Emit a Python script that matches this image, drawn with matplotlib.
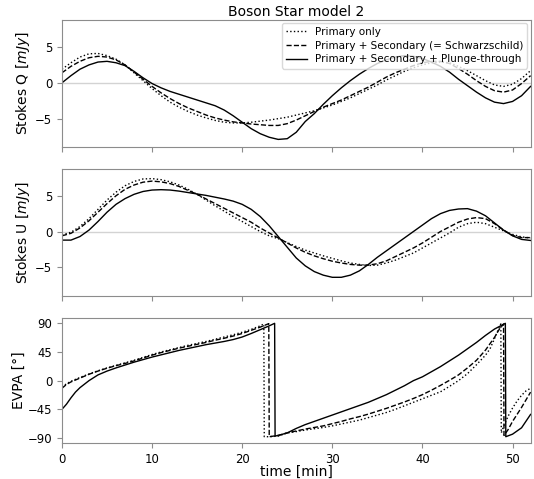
import matplotlib
matplotlib.use("Agg")
import matplotlib.pyplot as plt

# ---------------- data ----------------
time = list(range(0, 53))

# Stokes Q [mJy]
q_primary = [1.9, 2.8, 3.6, 4.05, 4.1, 3.8, 3.3, 2.5, 1.4, 0.3,
             -0.8, -1.8, -2.7, -3.4, -4.0, -4.5, -4.9, -5.25, -5.5, -5.6,
             -5.6, -5.5, -5.35, -5.2, -5.0, -4.8, -4.5, -4.2, -3.9, -3.5,
             -3.1, -2.6, -2.1, -1.5, -0.9, -0.3, 0.4, 1.0, 1.6, 2.1,
             2.5, 2.8, 2.9, 2.8, 2.3, 1.7, 1.0, 0.3, -0.3, -0.5,
             -0.2, 0.6, 1.7]
q_schw = [1.4, 2.3, 3.0, 3.5, 3.7, 3.6, 3.2, 2.5, 1.5, 0.5,
          -0.5, -1.4, -2.2, -2.9, -3.5, -4.0, -4.5, -4.9, -5.2, -5.45,
          -5.6, -5.75, -5.85, -5.95, -5.95, -5.7, -5.2, -4.6, -4.0, -3.4,
          -2.9, -2.4, -1.8, -1.2, -0.6, 0.1, 0.8, 1.4, 1.9, 2.4,
          2.8, 3.0, 3.0, 2.7, 2.0, 1.2, 0.3, -0.5, -1.1, -1.3,
          -1.0, -0.1, 1.0]
q_plunge = [0.0, 1.0, 1.9, 2.5, 2.9, 3.0, 2.8, 2.4, 1.6, 0.7,
            -0.1, -0.7, -1.2, -1.6, -2.0, -2.4, -2.8, -3.2, -3.8, -4.6,
            -5.5, -6.4, -7.1, -7.6, -7.9, -7.8, -6.9, -5.4, -4.3, -3.0,
            -1.8, -0.7, 0.3, 1.2, 2.0, 2.7, 3.2, 3.6, 3.8, 3.7,
            3.4, 2.9, 2.3, 1.5, 0.5, -0.4, -1.3, -2.1, -2.7, -2.9,
            -2.6, -1.8, -0.5]

# Stokes U [mJy]
u_primary = [-0.5, -0.1, 0.7, 1.8, 3.1, 4.4, 5.5, 6.4, 7.0, 7.35,
             7.4, 7.25, 6.95, 6.5, 5.9, 5.2, 4.4, 3.6, 2.85, 2.1,
             1.4, 0.7, 0.0, -0.6, -1.0, -1.55, -2.1, -2.6, -3.0, -3.4,
             -3.75, -4.1, -4.4, -4.6, -4.75, -4.7, -4.4, -4.0, -3.5, -3.0,
             -2.3, -1.6, -0.9, -0.2, 0.6, 1.1, 1.3, 1.1, 0.6, 0.1,
             -0.4, -0.75, -0.9]
u_schw = [-0.6, -0.25, 0.5, 1.5, 2.7, 3.9, 5.0, 5.9, 6.5, 6.9,
          7.05, 6.95, 6.7, 6.3, 5.75, 5.2, 4.55, 3.9, 3.25, 2.6,
          1.95, 1.3, 0.5, -0.2, -0.9, -1.6, -2.3, -2.9, -3.4, -3.8,
          -4.15, -4.4, -4.6, -4.7, -4.7, -4.5, -4.1, -3.5, -2.9, -2.3,
          -1.6, -0.8, 0.0, 0.65, 1.3, 1.75, 1.95, 1.8, 1.1, 0.2,
          -0.55, -0.85, -0.85]
u_plunge = [-1.2, -1.2, -0.7, 0.2, 1.4, 2.7, 3.8, 4.6, 5.2, 5.6,
            5.8, 5.85, 5.8, 5.65, 5.45, 5.25, 5.05, 4.8, 4.55, 4.25,
            3.8, 3.1, 2.1, 0.8, -0.7, -2.2, -3.7, -4.8, -5.6, -6.1,
            -6.4, -6.4, -6.1, -5.5, -4.6, -3.6, -2.7, -1.8, -0.9, 0.0,
            0.9, 1.8, 2.5, 2.95, 3.15, 3.2, 2.85, 2.2, 1.2, 0.2,
            -0.6, -1.1, -1.25]

# EVPA [deg] (own time samples, to capture the wraps)
evpa_primary_t = [0, 0.5, 1, 2, 3, 4, 5, 6, 7, 8, 9, 10, 11, 12, 13, 14, 15, 16, 17, 18,
                  19, 20, 21, 22, 22.4, 22.45, 23, 24, 25, 26, 27, 28, 29, 30, 31, 32, 33,
                  34, 35, 36, 37, 38, 39, 40, 41, 42, 43, 44, 45, 46, 47, 47.5, 48, 48.4,
                  48.7, 48.75, 49, 49.5, 50, 50.5, 51, 51.5, 52]
evpa_primary = [-10, -5, -1, 5, 10.5, 15.5, 20, 24, 28, 32, 36.5, 41, 45, 48.5, 52, 55.5, 58.5,
                61.5, 65, 68.5, 72, 76, 80.5, 86, 89, -88, -88, -87, -82, -80, -77.5, -75.5,
                -73.5, -71, -68, -65, -62, -58, -54, -50, -45, -39.5, -34, -28.5, -23, -17.5,
                -9, 0, 11, 25, 40, 50, 66, 80, 89, -82, -72, -56, -43, -32, -23, -16, -12]

evpa_schw_t = [0, 0.5, 1, 2, 3, 4, 5, 6, 7, 8, 9, 10, 11, 12, 13, 14, 15, 16, 17, 18,
               19, 20, 21, 22, 22.95, 23.0, 24, 25, 26, 27, 28, 29, 30, 31, 32, 33, 34,
               35, 36, 37, 38, 39, 40, 41, 42, 43, 44, 45, 46, 47, 48, 48.5, 49.0,
               49.05, 49.5, 50, 51, 52]
evpa_schw = [-12, -6, -2, 4, 10, 15, 19.5, 23.5, 27, 31, 35.5, 40, 44, 47.5, 51, 54, 57,
             60, 63.5, 66.5, 70, 74, 79, 84, 89.5, -88, -86, -82, -79, -76, -73.5, -71,
             -67.5, -64, -60, -56.5, -52.5, -48, -43.5, -38.5, -33.5, -28, -22, -15, -7.5,
             0.5, 9, 20, 32, 48, 68, 80, 89, -86, -77, -64, -42, -18]

evpa_plunge_t = [0, 0.5, 1, 1.5, 2, 3, 4, 5, 6, 7, 8, 9, 10, 11, 12, 13, 14, 15, 16, 17,
                 18, 19, 20, 21, 22, 23, 23.6, 23.65, 24, 25, 26, 27, 28, 29, 30, 31, 32,
                 33, 34, 35, 36, 37, 38, 39, 40, 41, 42, 43, 44, 45, 46, 47, 48, 49,
                 49.2, 49.25, 50, 51, 52]
evpa_plunge = [-45, -37, -27, -18, -11, 0, 9, 15, 20, 24.5, 29, 33, 37, 40.5, 44, 47.5,
               50.5, 53.5, 56.5, 59, 61.5, 64.5, 68.5, 74, 80, 86, 90, -87, -86, -82, -75,
               -69, -64, -59, -54, -49, -44, -39, -34, -28, -22, -15, -8, 0, 6, 14, 22,
               31, 40, 50, 60, 71, 81, 88.5, 90, -88, -84, -74, -53]

labels = ["Primary only",
          "Primary + Secondary (= Schwarzschild)",
          "Primary + Secondary + Plunge-through"]
styles = [":", "--", "-"]

# ---------------- figure ----------------
plt.rcParams["font.family"] = ["DejaVu Sans"]
fig = plt.figure(figsize=(5.34, 4.79), dpi=100)

left, width = 0.116, 0.8776
ax1 = fig.add_axes([left, 0.694, width, 0.2647])
ax2 = fig.add_axes([left, 0.383, width, 0.2643], sharex=ax1)
ax3 = fig.add_axes([left, 0.075, width, 0.2620], sharex=ax1)

spine_col = "#8c8c8c"
lw = 1.0

for ax in (ax1, ax2, ax3):
    for s in ax.spines.values():
        s.set_color(spine_col)
    ax.tick_params(colors=spine_col, labelcolor="black", labelsize=8.4, length=3.5, width=0.8)

for ax in (ax1, ax2):
    ax.axhline(0, color="#d3d3d3", lw=1.0, zorder=0)

for y, ls, lab in zip([q_primary, q_schw, q_plunge], styles, labels):
    ax1.plot(time, y, color="black", ls=ls, lw=lw, label=lab)
for y, ls in zip([u_primary, u_schw, u_plunge], styles):
    ax2.plot(time, y, color="black", ls=ls, lw=lw)
for t, y, ls in zip([evpa_primary_t, evpa_schw_t, evpa_plunge_t],
                    [evpa_primary, evpa_schw, evpa_plunge], styles):
    ax3.plot(t, y, color="black", ls=ls, lw=lw)

ax1.set_xlim(0, 52)
ax1.set_ylim(-8.9, 8.8)
ax2.set_ylim(-8.95, 8.75)
ax3.set_ylim(-98, 99)
ax1.set_yticks([-5, 0, 5])
ax2.set_yticks([-5, 0, 5])
ax3.set_yticks([-90, -45, 0, 45, 90])
ax3.set_xticks([0, 10, 20, 30, 40, 50])
ax1.tick_params(labelbottom=False)
ax2.tick_params(labelbottom=False)

ax1.set_ylabel(r"Stokes Q [$mJy$]", fontsize=10, labelpad=2)
ax2.set_ylabel(r"Stokes U [$mJy$]", fontsize=10, labelpad=2)
ax3.set_ylabel("EVPA [°]", fontsize=10, labelpad=1)
ax3.set_xlabel("time [min]", fontsize=10, labelpad=-0.5)
ax1.set_title("Boson Star model 2", fontsize=10, pad=3)

ax1.legend(loc="upper right", fontsize=7.5, framealpha=0.8, edgecolor="#d0d0d0",
           borderaxespad=0.3, handlelength=2.0, labelspacing=0.35)

fig.savefig("out.png", dpi=100)
